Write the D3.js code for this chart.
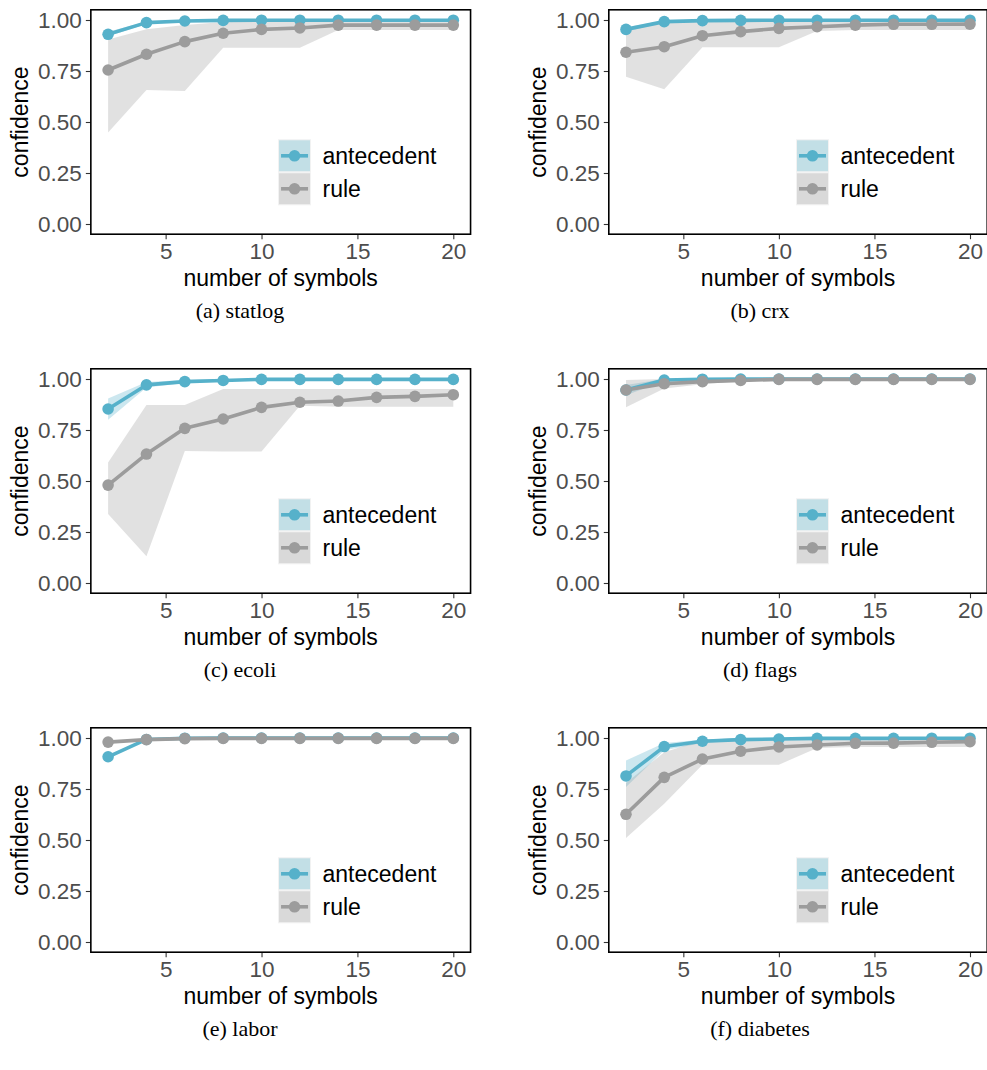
<!DOCTYPE html>
<html>
<head>
<meta charset="utf-8">
<script src="https://cdn.jsdelivr.net/npm/d3@7"></script>
<style>
  html, body { margin: 0; padding: 0; background: #ffffff; }
  svg { display: block; }
</style>
</head>
<body>
<svg id="chart" width="987" height="1070"></svg>
<script>
// ---------------- data ----------------
const symbols = [2, 4, 6, 8, 10, 12, 14, 16, 18, 20];
const xTicks = [5, 10, 15, 20];
const yTicks = [0, 0.25, 0.5, 0.75, 1.0];
const yTickLabels = ["0.00", "0.25", "0.50", "0.75", "1.00"];
const seriesNames = ["antecedent", "rule"];
const captions = ["(a) statlog", "(b) crx", "(c) ecoli", "(d) flags", "(e) labor", "(f) diabetes"];

// (a) statlog
const statlogAnte     = [0.930, 0.987, 0.995, 0.998, 0.999, 0.999, 0.999, 0.999, 0.999, 0.999];
const statlogAnteLow  = [0.920, 0.980, 0.990, 0.995, 0.996, 0.997, 0.997, 0.997, 0.998, 0.998];
const statlogAnteHigh = [0.942, 0.993, 0.999, 1.000, 1.000, 1.000, 1.000, 1.000, 1.000, 1.000];
const statlogRule     = [0.755, 0.832, 0.894, 0.935, 0.954, 0.961, 0.975, 0.975, 0.975, 0.975];
const statlogRuleLow  = [0.448, 0.657, 0.652, 0.864, 0.864, 0.864, 0.951, 0.951, 0.951, 0.951];
const statlogRuleHigh = [0.905, 0.955, 0.975, 0.990, 1.000, 1.000, 1.000, 1.000, 1.000, 1.000];

// (b) crx
const crxAnte     = [0.954, 0.992, 0.997, 0.998, 0.999, 0.999, 0.999, 0.999, 0.999, 0.999];
const crxAnteLow  = [0.944, 0.987, 0.993, 0.995, 0.996, 0.997, 0.997, 0.997, 0.998, 0.998];
const crxAnteHigh = [0.964, 0.997, 1.000, 1.000, 1.000, 1.000, 1.000, 1.000, 1.000, 1.000];
const crxRule     = [0.842, 0.869, 0.923, 0.943, 0.959, 0.967, 0.975, 0.979, 0.979, 0.980];
const crxRuleLow  = [0.722, 0.660, 0.866, 0.866, 0.866, 0.946, 0.951, 0.951, 0.951, 0.951];
const crxRuleHigh = [0.945, 0.990, 1.000, 1.000, 1.000, 1.000, 1.000, 1.000, 1.000, 1.000];

// (c) ecoli
const ecoliAnte     = [0.853, 0.971, 0.987, 0.993, 0.998, 0.998, 0.998, 0.998, 0.998, 0.998];
const ecoliAnteLow  = [0.800, 0.958, 0.980, 0.988, 0.995, 0.996, 0.996, 0.996, 0.996, 0.996];
const ecoliAnteHigh = [0.905, 0.985, 0.995, 1.000, 1.000, 1.000, 1.000, 1.000, 1.000, 1.000];
const ecoliRule     = [0.480, 0.632, 0.758, 0.804, 0.861, 0.886, 0.892, 0.910, 0.915, 0.923];
const ecoliRuleLow  = [0.338, 0.131, 0.647, 0.644, 0.644, 0.869, 0.864, 0.864, 0.864, 0.864];
const ecoliRuleHigh = [0.591, 0.873, 0.873, 0.951, 0.951, 0.951, 0.951, 0.951, 0.951, 0.951];

// (d) flags
const flagsAnte     = [0.946, 0.995, 0.999, 1.000, 1.000, 1.000, 1.000, 1.000, 1.000, 1.000];
const flagsAnteLow  = [0.920, 0.990, 0.997, 0.999, 0.999, 0.999, 0.999, 0.999, 0.999, 0.999];
const flagsAnteHigh = [0.970, 1.000, 1.000, 1.000, 1.000, 1.000, 1.000, 1.000, 1.000, 1.000];
const flagsRule     = [0.946, 0.977, 0.987, 0.993, 0.998, 0.998, 0.998, 0.998, 0.998, 0.998];
const flagsRuleLow  = [0.861, 0.954, 0.974, 0.990, 0.995, 0.995, 0.995, 0.995, 0.995, 0.995];
const flagsRuleHigh = [0.995, 1.000, 1.000, 1.000, 1.000, 1.000, 1.000, 1.000, 1.000, 1.000];

// (e) labor
const laborAnte     = [0.908, 0.993, 0.999, 1.000, 1.000, 1.000, 1.000, 1.000, 1.000, 1.000];
const laborAnteLow  = [0.900, 0.990, 0.998, 0.999, 0.999, 0.999, 0.999, 0.999, 0.999, 0.999];
const laborAnteHigh = [0.915, 0.996, 1.000, 1.000, 1.000, 1.000, 1.000, 1.000, 1.000, 1.000];
const laborRule     = [0.980, 0.992, 0.997, 0.998, 0.998, 0.998, 0.998, 0.998, 0.998, 0.998];
const laborRuleLow  = [0.975, 0.989, 0.995, 0.996, 0.996, 0.996, 0.996, 0.996, 0.996, 0.996];
const laborRuleHigh = [0.985, 0.995, 1.000, 1.000, 1.000, 1.000, 1.000, 1.000, 1.000, 1.000];

// (f) diabetes
const diabetesAnte     = [0.814, 0.958, 0.984, 0.992, 0.995, 0.998, 0.998, 0.998, 0.999, 0.999];
const diabetesAnteLow  = [0.760, 0.940, 0.975, 0.988, 0.992, 0.995, 0.996, 0.996, 0.997, 0.997];
const diabetesAnteHigh = [0.890, 0.975, 0.992, 1.000, 1.000, 1.000, 1.000, 1.000, 1.000, 1.000];
const diabetesRule     = [0.626, 0.807, 0.897, 0.935, 0.956, 0.966, 0.974, 0.975, 0.979, 0.982];
const diabetesRuleLow  = [0.510, 0.678, 0.869, 0.869, 0.869, 0.951, 0.956, 0.956, 0.956, 0.956];
const diabetesRuleHigh = [0.780, 0.930, 0.990, 1.000, 1.000, 1.000, 1.000, 1.000, 1.000, 1.000];

// ---------------- build ----------------
const datasets = [
  {caption: captions[0], ante: [statlogAnte, statlogAnteLow, statlogAnteHigh], rule: [statlogRule, statlogRuleLow, statlogRuleHigh]},
  {caption: captions[1], ante: [crxAnte, crxAnteLow, crxAnteHigh], rule: [crxRule, crxRuleLow, crxRuleHigh]},
  {caption: captions[2], ante: [ecoliAnte, ecoliAnteLow, ecoliAnteHigh], rule: [ecoliRule, ecoliRuleLow, ecoliRuleHigh]},
  {caption: captions[3], ante: [flagsAnte, flagsAnteLow, flagsAnteHigh], rule: [flagsRule, flagsRuleLow, flagsRuleHigh]},
  {caption: captions[4], ante: [laborAnte, laborAnteLow, laborAnteHigh], rule: [laborRule, laborRuleLow, laborRuleHigh]},
  {caption: captions[5], ante: [diabetesAnte, diabetesAnteLow, diabetesAnteHigh], rule: [diabetesRule, diabetesRuleLow, diabetesRuleHigh]}
];

const colors = {antecedent: "#56B1CA", rule: "#9C9C9C"};
const keyFill = {antecedent: "#c2dfe6", rule: "#d9d9d9"};

const svg = d3.select("#chart");
const sansFont = "'Liberation Sans', Arial, Helvetica, sans-serif";
const serifFont = "'Liberation Serif', 'Times New Roman', serif";

// column x-ranges (positions of x=2 and x=20) and row offsets
const colX = [[108.1, 453.3], [626.0, 970.0]];
const rowY0 = [0, 359, 718];
const captionX = [240, 760];

datasets.forEach((ds, i) => {
  const col = i % 2, row = Math.floor(i / 2);
  const off = rowY0[row];
  const x = d3.scaleLinear().domain([2, 20]).range(colX[col]);
  const y = d3.scaleLinear().domain([0, 1]).range([224 + off, 20 + off]);
  const xL = x(1.1), xR = x(20.9), yT = y(1.05), yB = y(-0.05);

  const g = svg.append("g");

  const mk = (arr) => symbols.map((s, k) => ({x: s, m: arr[0][k], lo: arr[1][k], hi: arr[2][k]}));
  const series = [
    {name: "antecedent", pts: mk(ds.ante)},
    {name: "rule", pts: mk(ds.rule)}
  ];

  // ribbons
  const area = d3.area().x(d => x(d.x)).y0(d => y(d.lo)).y1(d => y(d.hi));
  series.forEach(s => {
    g.append("path").attr("d", area(s.pts))
      .attr("fill", colors[s.name]).attr("fill-opacity", 0.3).attr("stroke", "none");
  });
  // lines
  const line = d3.line().x(d => x(d.x)).y(d => y(d.m));
  series.forEach(s => {
    g.append("path").attr("d", line(s.pts))
      .attr("fill", "none").attr("stroke", colors[s.name]).attr("stroke-width", 3.6)
      .attr("stroke-linejoin", "round");
  });
  // points
  series.forEach(s => {
    g.selectAll(null).data(s.pts).enter().append("circle")
      .attr("cx", d => x(d.x)).attr("cy", d => y(d.m)).attr("r", 5.8)
      .attr("fill", colors[s.name]);
  });

  // axes
  const yAxis = d3.axisLeft(y).tickValues(yTicks).tickFormat((d, k) => yTickLabels[k]).tickSize(5).tickPadding(4);
  const ya = g.append("g").attr("transform", `translate(${xL},0)`).call(yAxis);
  const xAxis = d3.axisBottom(x).tickValues(xTicks).tickSize(5).tickPadding(4);
  const xa = g.append("g").attr("transform", `translate(0,${yB})`).call(xAxis);
  [ya, xa].forEach(a => {
    a.select(".domain").remove();
    a.selectAll(".tick line").attr("stroke", "#333333").attr("stroke-width", 1.1);
    a.selectAll(".tick text").attr("fill", "#4d4d4d").style("font-family", sansFont).style("font-size", "22.5px");
  });

  // panel border
  g.append("rect").attr("x", xL).attr("y", yT).attr("width", xR - xL).attr("height", yB - yT)
    .attr("fill", "none").attr("stroke", "#000").attr("stroke-width", 1.6);

  // axis titles
  g.append("text").attr("x", (xL + xR) / 2).attr("y", 286 + off).attr("text-anchor", "middle")
    .style("font-family", sansFont).style("font-size", "23px").attr("fill", "#000").text("number of symbols");
  g.append("text").attr("transform", `translate(${xL - 63},${(yT + yB) / 2}) rotate(-90)`)
    .attr("text-anchor", "middle")
    .style("font-family", sansFont).style("font-size", "23px").attr("fill", "#000").text("confidence");

  // legend
  const lx = xL + 187.7, ly = yT + 130;
  seriesNames.forEach((nm, k) => {
    const ky = ly + k * 33;
    g.append("rect").attr("x", lx).attr("y", ky).attr("width", 32).attr("height", 32)
      .attr("fill", keyFill[nm]).attr("stroke", "#f2f2f2").attr("stroke-width", 1);
    g.append("line").attr("x1", lx + 2.5).attr("x2", lx + 29.5).attr("y1", ky + 16).attr("y2", ky + 16)
      .attr("stroke", colors[nm]).attr("stroke-width", 3.6);
    g.append("circle").attr("cx", lx + 16).attr("cy", ky + 16).attr("r", 5.8).attr("fill", colors[nm]);
    g.append("text").attr("x", lx + 44).attr("y", ky + 16).attr("dy", "0.35em")
      .style("font-family", sansFont).style("font-size", "23px").attr("fill", "#000").text(nm);
  });

  // caption
  svg.append("text").attr("x", captionX[col]).attr("y", 318 + off).attr("text-anchor", "middle")
    .style("font-family", serifFont).style("font-size", "22px").attr("fill", "#000").text(ds.caption);
});
</script>
</body>
</html>
